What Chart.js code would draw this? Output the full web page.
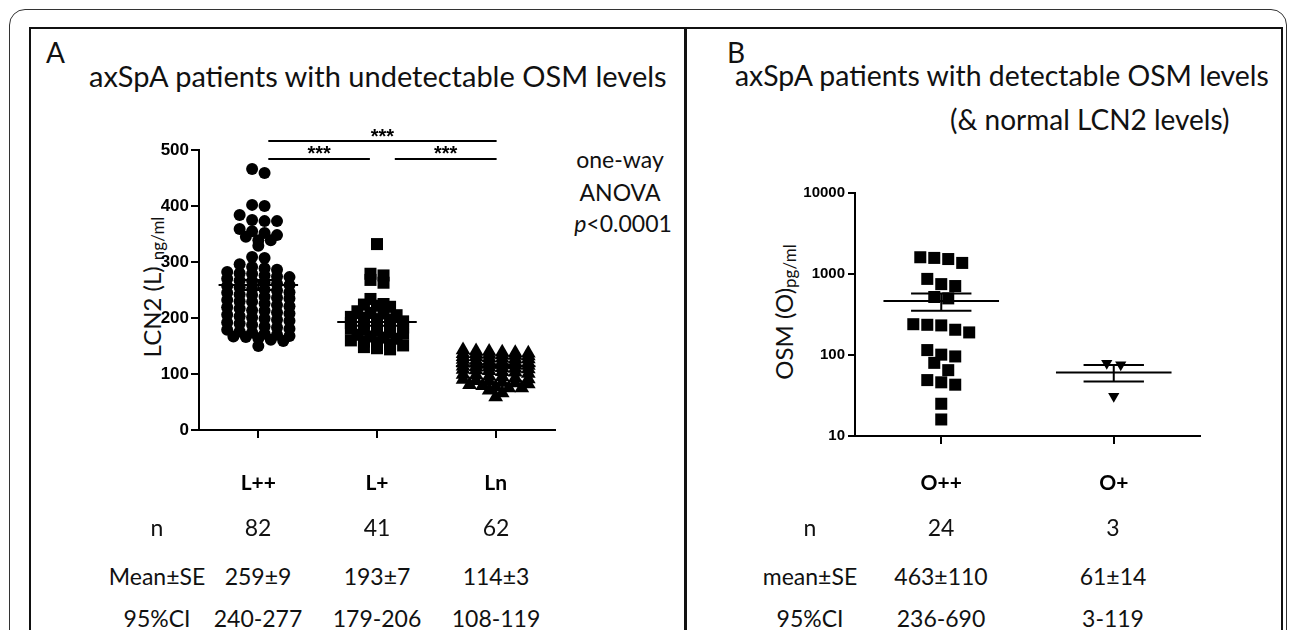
<!DOCTYPE html>
<html>
<head>
<meta charset="utf-8">
<script src="https://cdn.jsdelivr.net/npm/chart.js@4.4.1/dist/chart.umd.min.js"></script>
<style>
  html, body { margin: 0; padding: 0; background: #fff; }
  #page { position: relative; width: 1292px; height: 630px; overflow: hidden; background: #fff;
          font-family: Lato, 'Open Sans', sans-serif; color: #111; }
  .frame { position: absolute; left: 9px; top: 9px; width: 1276px; height: 700px;
           border: 1.5px solid #333; border-radius: 16px; }
  .inner { position: absolute; left: 29px; top: 27px; width: 1250px; height: 700px; border: 2.5px solid #111; }
  .divider { position: absolute; left: 684px; top: 27px; width: 2.5px; height: 700px; background: #111; }
  .t { position: absolute; white-space: nowrap; line-height: 1; }
  .c { transform: translateX(-50%); }
  .ytitle { position: absolute; white-space: nowrap; line-height: 1; font-size: 24px;
            transform: translate(-50%, -50%) rotate(-90deg); }
  .ytitle span { font-size: 17px; position: relative; top: 3px; }
  .plot { position: absolute; }
</style>
</head>
<body>
<div id="page">
  <div class="frame"></div>
  <div class="inner"></div>
  <div class="divider"></div>

  <div class="t" style="left:46px; top:38px; font-size:28px;">A</div>
  <div class="t" style="left:89px; top:61px; font-size:29px;">axSpA patients with undetectable OSM levels</div>
  <div class="t" style="left:727px; top:38px; font-size:28px;">B</div>
  <div class="t" style="left:735px; top:61px; font-size:28.4px;">axSpA patients with detectable OSM levels</div>
  <div class="t" style="left:950px; top:105px; font-size:28px;">(&amp; normal LCN2 levels)</div>

  <div class="t c" style="left:620px; top:148px; font-size:23px;">one-way</div>
  <div class="t c" style="left:620px; top:181px; font-size:23px;">ANOVA</div>
  <div class="t c" style="left:623px; top:212px; font-size:23px;"><i>p</i>&lt;0.0001</div>

  <div class="ytitle" style="left:152px; top:287px;">LCN2 (L)&nbsp;<span>ng/ml</span></div>
  <div class="ytitle" style="left:784px; top:312px;">OSM (O)<span>pg/ml</span></div>

  <div class="plot" style="left:100px; top:95px;"><canvas id="chartA" width="470" height="420"></canvas></div>
  <div class="plot" style="left:740px; top:95px;"><canvas id="chartB" width="480" height="420"></canvas></div>

  <div id="tableA"></div>
  <div id="tableB"></div>
</div>

<script>
// ---- data ----
const groupsA = ['L++', 'L+', 'Ln'];
const lppValues = [
  466, 459, 402, 400, 384, 375, 373, 373, 359, 355, 352, 345, 348, 339, 339, 329, 309, 307, 296, 291, 289, 280,
  286, 282, 279, 276, 274, 273, 270, 267, 266, 263,
  261, 259, 257, 255, 252, 251, 249, 246, 245, 242,
  241, 238, 236, 235, 232, 230, 229, 226, 223, 221,
  219, 217, 214, 213, 210, 208, 206, 203, 201, 199,
  197, 195, 192, 190, 188, 185, 183, 181, 179, 176,
  174, 172, 170, 168, 167,
  166, 161, 150, 159, 164
];
const lpValues = [
  332, 279, 276, 268, 263, 234, 225, 224, 222, 220,
  212, 209, 208, 205, 202, 200, 198, 197, 194, 191,
  190, 187, 186, 183, 181, 179, 177, 174, 172, 170,
  167, 165, 163, 160, 158, 156, 153, 151, 148, 146, 144
];
const lnValues = [
  143, 141, 140, 139, 138, 137, 136, 136, 135, 134,
  133, 132, 131, 131, 129, 128, 127, 127, 126, 124,
  123, 122, 121, 120, 119, 118, 117, 116, 115, 114,
  113, 112, 111, 110, 109, 108, 107, 106, 104, 103,
  101, 99, 98, 96, 95, 93, 91, 90, 88, 87,
  85, 84, 82, 81, 79, 77, 75, 75, 71, 66, 59, 120
];
const meansA = [259, 193, 114];
const seA = [9, 7, 3];
const nA = ['82', '41', '62'];
const meanSeA = ['259±9', '193±7', '114±3'];
const ciA = ['240-277', '179-206', '108-119'];
const sigPairs = [[0, 2, '***'], [0, 1, '***'], [1, 2, '***']];

const groupsB = ['O++', 'O+'];
const oppValues = [1610, 1580, 1530, 1370, 870, 750, 710, 520, 500, 240, 236, 232, 205, 190,
                   115, 101, 96, 80, 65, 49, 46, 43, 25, 16];
const opValues = [79, 76, 31];
const meansB = [463, 61];
const seB = [110, 14];
const nB = ['24', '3'];
const meanSeB = ['463±110', '61±14'];
const ciB = ['236-690', '3-119'];
const ticksB = [10, 100, 1000, 10000];

// ---- helpers ----
// lay points out in rows (like a GraphPad scatter dot plot)
function swarm(values, center, binSize, step, maxPerRow, key) {
  const order = values.map((v, i) => i).sort((a, b) => values[b] - values[a]);
  const pts = [];
  let row = [];
  const flush = () => {
    row.forEach((i, k) => pts.push({ x: center + (k - (row.length - 1) / 2) * step, y: values[i] }));
    row = [];
  };
  order.forEach(i => {
    if (row.length && (key(values[row[0]]) - key(values[i]) >= binSize || row.length >= maxPerRow)) flush();
    row.push(i);
  });
  flush();
  return pts;
}

function meanLine(center, mean) {
  return [{ x: center - 0.335, y: mean }, { x: center + 0.335, y: mean }];
}

function seBar(center, mean, se) {
  const w = 0.175;
  return [
    { x: center - w, y: mean + se }, { x: center + w, y: mean + se }, { x: center, y: null },
    { x: center, y: mean + se }, { x: center, y: mean - se }, { x: center, y: null },
    { x: center - w, y: mean - se }, { x: center + w, y: mean - se }
  ];
}

function lineSet(data, extra) {
  return Object.assign({
    data: data, showLine: true, borderColor: '#000', borderWidth: 2,
    pointRadius: 0, spanGaps: false, fill: false
  }, extra || {});
}

function pointSet(data, style, radius, rotation) {
  return {
    data: data, showLine: false, pointStyle: style, pointRadius: radius,
    pointRotation: rotation || 0, pointBackgroundColor: '#000', pointBorderWidth: 0,
    borderColor: '#000', backgroundColor: '#000'
  };
}

const axisGrid = { drawOnChartArea: false, drawTicks: true, tickLength: 8, color: '#000', lineWidth: 2 };
const axisBorder = { display: true, color: '#000', width: 2 };
const catFont = { family: 'Lato', size: 21, weight: 'bold' };

// significance bars above panel A
const sigBars = sigPairs.map(([a, b, label]) => ({
  x1: a + 1 + (a === 0 ? 0.084 : 0.15),
  x2: b + 1 + (b === 2 ? 0.008 : -0.06),
  level: b - a === 2 ? 516 : 484,
  label: label
}));

const sigPlugin = {
  id: 'sigStars',
  afterDatasetsDraw(chart) {
    const { ctx, scales: { x, y } } = chart;
    ctx.save();
    ctx.font = 'bold 20px "Liberation Sans", Arial, sans-serif';
    ctx.textAlign = 'center';
    ctx.textBaseline = 'alphabetic';
    ctx.fillStyle = '#000';
    sigBars.forEach(b => {
      const xc = (x.getPixelForValue(b.x1) + x.getPixelForValue(b.x2)) / 2;
      ctx.fillText(b.label, xc, y.getPixelForValue(b.level) + 1.5);
    });
    ctx.restore();
  }
};

// ---- panel A ----
const datasetsA = [
  lineSet(meanLine(1, meansA[0])), lineSet(meanLine(2, meansA[1])), lineSet(meanLine(3, meansA[2])),
  lineSet(seBar(1, meansA[0], seA[0])), lineSet(seBar(2, meansA[1], seA[1])), lineSet(seBar(3, meansA[2], seA[2])),
  pointSet(swarm(lppValues, 1, 12, 0.105, 6, v => v), 'circle', 6),
  pointSet(swarm(lpValues, 2, 10, 0.11, 6, v => v), 'rect', 8.5),
  pointSet(swarm(lnValues, 3, 10, 0.11, 6, v => v), 'triangle', 8.5)
];
sigBars.forEach(b => {
  datasetsA.push(lineSet([{ x: b.x1, y: b.level }, { x: b.x2, y: b.level }], { clip: false }));
});

new Chart(document.getElementById('chartA'), {
  type: 'scatter',
  data: { datasets: datasetsA },
  plugins: [sigPlugin],
  options: {
    responsive: false,
    animation: false,
    events: [],
    layout: { padding: { top: 55, right: 15, left: 0, bottom: 0 } },
    plugins: { legend: { display: false }, tooltip: { enabled: false } },
    scales: {
      x: {
        type: 'linear', min: 0.5, max: 3.5,
        afterBuildTicks: s => { s.ticks = groupsA.map((g, i) => ({ value: i + 1 })); },
        afterFit: s => { s.height = 85; },
        grid: axisGrid, border: axisBorder,
        ticks: { callback: (v, i) => groupsA[i], color: '#000', font: catFont, padding: 33,
                 maxRotation: 0, autoSkip: false }
      },
      y: {
        min: 0, max: 500,
        afterFit: s => { s.width = 99; },
        grid: axisGrid, border: axisBorder,
        ticks: { stepSize: 100, color: '#000', padding: 2,
                 font: { family: 'Liberation Sans', size: 17, weight: 'bold' } }
      }
    }
  }
});

// ---- panel B ----
const logKey = v => Math.log10(v);
const datasetsB = [
  lineSet(meanLine(1, meansB[0])), lineSet(meanLine(2, meansB[1])),
  lineSet(seBar(1, meansB[0], seB[0])), lineSet(seBar(2, meansB[1], seB[1])),
  pointSet(swarm(oppValues, 1, 0.11, 0.081, 5, logKey), 'rect', 8.5),
  pointSet(swarm(opValues, 2, 0.11, 0.081, 5, logKey), 'triangle', 6.5, 180)
];

new Chart(document.getElementById('chartB'), {
  type: 'scatter',
  data: { datasets: datasetsB },
  options: {
    responsive: false,
    animation: false,
    events: [],
    layout: { padding: { top: 98, right: 20, left: 0, bottom: 0 } },
    plugins: { legend: { display: false }, tooltip: { enabled: false } },
    scales: {
      x: {
        type: 'linear', min: 0.5, max: 2.5,
        afterBuildTicks: s => { s.ticks = groupsB.map((g, i) => ({ value: i + 1 })); },
        afterFit: s => { s.height = 79; },
        grid: axisGrid, border: axisBorder,
        ticks: { callback: (v, i) => groupsB[i], color: '#000', font: catFont, padding: 27,
                 maxRotation: 0, autoSkip: false }
      },
      y: {
        type: 'logarithmic', min: 10, max: 10000,
        afterBuildTicks: s => { s.ticks = ticksB.map(v => ({ value: v })); },
        afterFit: s => { s.width = 115; },
        grid: Object.assign({}, axisGrid, { tickLength: 7 }), border: axisBorder,
        ticks: { callback: v => String(v), color: '#000', padding: 3,
                 font: { family: 'Liberation Sans', size: 15, weight: 'bold' } }
      }
    }
  }
});

// ---- tables under the plots ----
function buildTable(el, labelX, colX, rows) {
  const baselines = [536, 585, 627];
  const size = 23;
  let html = '';
  rows.forEach((row, r) => {
    const top = baselines[r] - 0.887 * size;
    html += `<div class="t c" style="left:${labelX}px; top:${top}px; font-size:${size}px;">${row.label}</div>`;
    row.cells.forEach((txt, i) => {
      html += `<div class="t c" style="left:${colX[i]}px; top:${top}px; font-size:${size}px;">${txt}</div>`;
    });
  });
  el.innerHTML = html;
}

buildTable(document.getElementById('tableA'), 157, [258, 377, 496], [
  { label: 'n', cells: nA },
  { label: 'Mean±SE', cells: meanSeA },
  { label: '95%CI', cells: ciA }
]);
buildTable(document.getElementById('tableB'), 810, [941, 1113], [
  { label: 'n', cells: nB },
  { label: 'mean±SE', cells: meanSeB },
  { label: '95%CI', cells: ciB }
]);
</script>
</body>
</html>
